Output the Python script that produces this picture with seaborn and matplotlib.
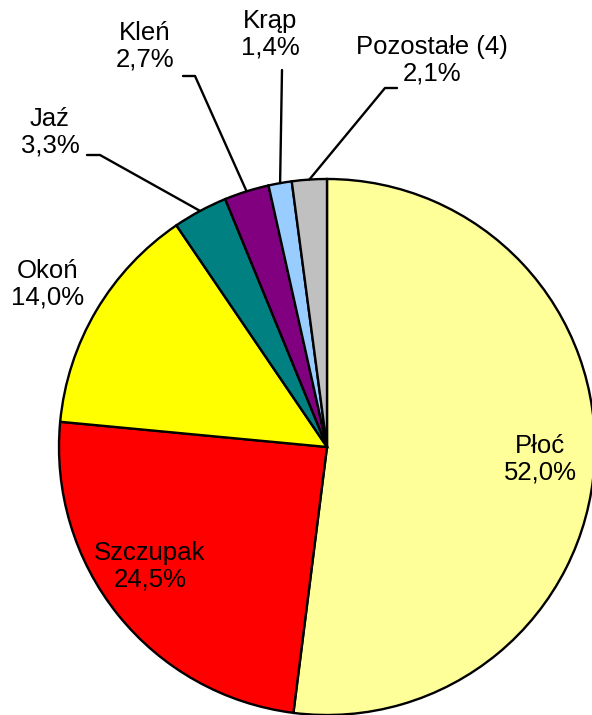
import numpy as np
import matplotlib
matplotlib.use("Agg")
import matplotlib.pyplot as plt
import seaborn as sns

# data
species = ["Płoć", "Szczupak", "Okoń", "Jaź", "Kleń", "Krąp", "Pozostałe (4)"]
shares = [52.0, 24.5, 14.0, 3.3, 2.7, 1.4, 2.1]
colors = ["#FFFF99", "#FF0000", "#FFFF00", "#008080", "#800080", "#99CCFF", "#C0C0C0"]

sns.set_style("white")
plt.rcParams["font.family"] = ["Liberation Sans", "DejaVu Sans"]

W, H = 592, 715
fig = plt.figure(figsize=(W / 100, H / 100), dpi=100)
ax = fig.add_axes([0, 0, 1, 1])

cx, cy, R = 327, 447, 268
ax.pie(shares, colors=colors, startangle=-90, counterclock=True,
       center=(cx, cy), radius=R, frame=True,
       wedgeprops=dict(edgecolor="black", linewidth=1.7))
ax.set_xlim(0, W)
ax.set_ylim(H, 0)
ax.set_aspect("equal")
ax.axis("off")

# label positions (pixels) and leader elbows
label_pos = [(540, 459), (150, 566), (48, 284), (50, 132), (145, 46), (270, 34), (432, 60)]
elbows = [None, None, None,
          [(87, 155), (100, 155)],
          [(183, 76), (195, 76)],
          [(282, 70)],
          [(397, 88), (385, 88)]]

cum = np.cumsum([0] + shares[:-1])
for i, (name, val) in enumerate(zip(species, shares)):
    txt = f"{name}\n{val:.1f}%".replace(".", ",")
    x, y = label_pos[i]
    ax.text(x, y, txt, ha="center", va="center", fontsize=18.5,
            linespacing=1.13, color="black")
    if elbows[i] is not None:
        mid = cum[i] + val / 2
        th = np.deg2rad(-90 + 360 * mid / 100)
        ex, ey = cx + R * np.cos(th), cy + R * np.sin(th)
        pts = elbows[i] + [(ex, ey)]
        ax.plot([p[0] for p in pts], [p[1] for p in pts], color="black", lw=1.7)

fig.savefig("out.png", dpi=100)
